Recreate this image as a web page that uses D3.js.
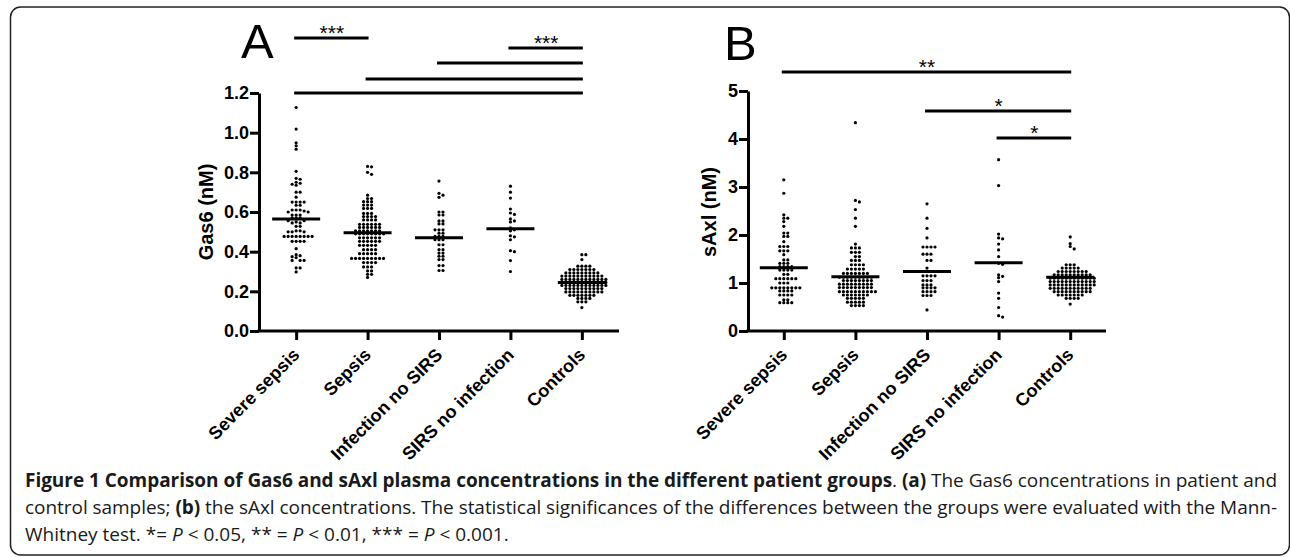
<!DOCTYPE html>
<html>
<head>
<meta charset="utf-8">
<script src="https://cdn.jsdelivr.net/npm/d3@7"></script>
<style>
  html, body { margin: 0; padding: 0; background: #fff; }
  svg { display: block; }
</style>
</head>
<body>
<svg id="fig" width="1290" height="557"></svg>
<script>
// Groups (x categories)
const groups = ["Severe sepsis", "Sepsis", "Infection no SIRS", "SIRS no infection", "Controls"];

// Panel A: Gas6 (nM)
const gas6SevereSepsis = [1.127, 1.018, 0.949, 0.934, 0.917, 0.805, 0.77, 0.765, 0.75, 0.745, 0.74, 0.735,
  0.70, 0.70, 0.675, 0.65, 0.65, 0.65, 0.65, 0.634, 0.634, 0.61, 0.61, 0.61, 0.605, 0.60, 0.60,
  0.585, 0.585, 0.585, 0.57, 0.57, 0.57, 0.556, 0.556, 0.55, 0.545, 0.545, 0.528, 0.528,
  0.505, 0.505, 0.50, 0.50, 0.50, 0.477, 0.477, 0.477, 0.477, 0.477, 0.477, 0.477, 0.477,
  0.452, 0.452, 0.452, 0.452, 0.415, 0.385, 0.38, 0.375, 0.37, 0.356, 0.356, 0.356, 0.318, 0.318, 0.298];
const gas6Sepsis = [0.83, 0.828, 0.80, 0.79, 0.685, 0.668, 0.668, 0.652, 0.652, 0.652,
  0.635, 0.635, 0.635, 0.618, 0.618, 0.618, 0.593, 0.593, 0.593, 0.577, 0.577, 0.577, 0.577,
  0.56, 0.56, 0.56, 0.56, 0.538, 0.538, 0.538, 0.538, 0.538, 0.538, 0.522, 0.522, 0.522, 0.522, 0.522, 0.522,
  0.505, 0.505, 0.505, 0.505, 0.505, 0.505, 0.505, 0.49, 0.49, 0.49, 0.49, 0.49, 0.49, 0.49, 0.49,
  0.47, 0.47, 0.47, 0.47, 0.47, 0.47, 0.452, 0.452, 0.452, 0.452, 0.452, 0.452,
  0.432, 0.432, 0.432, 0.432, 0.432, 0.41, 0.41, 0.41, 0.41, 0.39, 0.39, 0.39, 0.39, 0.39,
  0.366, 0.366, 0.366, 0.366, 0.366, 0.366, 0.366, 0.366, 0.366, 0.345, 0.345, 0.345, 0.345,
  0.323, 0.323, 0.323, 0.303, 0.303, 0.286, 0.286, 0.27];
const gas6Infection = [0.756, 0.694, 0.685, 0.674, 0.60, 0.60, 0.585, 0.585, 0.555, 0.555, 0.54, 0.54,
  0.51, 0.51, 0.51, 0.493, 0.493, 0.477, 0.477, 0.477, 0.46, 0.46, 0.46, 0.435, 0.435,
  0.41, 0.41, 0.393, 0.393, 0.377, 0.377, 0.36, 0.36, 0.33, 0.33, 0.305, 0.305];
const gas6Sirs = [0.73, 0.70, 0.67, 0.615, 0.595, 0.588, 0.565, 0.555, 0.55, 0.52, 0.51, 0.505,
  0.48, 0.475, 0.46, 0.405, 0.40, 0.355, 0.30];
const gas6Controls = [0.385, 0.385, 0.36, 0.327, 0.327, 0.327, 0.327,
  0.31, 0.31, 0.31, 0.31, 0.31, 0.31, 0.31, 0.293, 0.293, 0.293, 0.293, 0.293, 0.293, 0.293, 0.293, 0.293,
  0.277, 0.277, 0.277, 0.277, 0.277, 0.277, 0.277, 0.277, 0.277, 0.277, 0.277,
  0.26, 0.26, 0.26, 0.26, 0.26, 0.26, 0.26, 0.26, 0.26, 0.26, 0.26, 0.26,
  0.245, 0.245, 0.245, 0.245, 0.245, 0.245, 0.245, 0.245, 0.245, 0.245, 0.245, 0.245,
  0.23, 0.23, 0.23, 0.23, 0.23, 0.23, 0.23, 0.23, 0.23, 0.23, 0.23, 0.23,
  0.214, 0.214, 0.214, 0.214, 0.214, 0.214, 0.214, 0.214, 0.214, 0.214,
  0.197, 0.197, 0.197, 0.197, 0.197, 0.197, 0.197, 0.197, 0.197, 0.197,
  0.18, 0.18, 0.18, 0.18, 0.18, 0.18, 0.18, 0.164, 0.164, 0.164, 0.164, 0.147, 0.147, 0.147, 0.118];
const gas6Medians = [0.565, 0.495, 0.47, 0.515, 0.245];
const gas6Ticks = [0, 0.2, 0.4, 0.6, 0.8, 1.0, 1.2];

// Panel A significance bars (group index from / to, height in nM, label)
const gas6SigFrom = [0, 3, 2, 1, 0];
const gas6SigTo = [1, 4, 4, 4, 4];
const gas6SigLevel = [1.477, 1.427, 1.351, 1.271, 1.2];
const gas6SigLabel = ["***", "***", "", "", ""];

// Panel B: sAxl (nM)
const saxlSevereSepsis = [3.15, 2.87, 2.42, 2.35, 2.35, 2.28, 2.18, 2.04, 2.04, 1.97, 1.97, 1.86,
  1.76, 1.76, 1.76, 1.67, 1.67, 1.67, 1.59, 1.48, 1.48, 1.41, 1.41, 1.41, 1.34, 1.34, 1.34, 1.34,
  1.27, 1.27, 1.27, 1.27, 1.18, 1.18, 1.09, 1.09, 1.09, 1.09, 1.09, 1.09, 1.00, 1.00, 1.00,
  0.90, 0.90, 0.90, 0.90, 0.90, 0.90, 0.90, 0.90, 0.835, 0.835, 0.835, 0.835,
  0.75, 0.75, 0.75, 0.75, 0.65, 0.65, 0.59, 0.59, 0.59, 0.59];
const saxlSepsis = [4.34, 2.72, 2.69, 2.53, 2.35, 2.18, 1.81, 1.73, 1.73, 1.73, 1.64, 1.64, 1.64,
  1.55, 1.55, 1.47, 1.47, 1.47, 1.38, 1.38, 1.38, 1.38, 1.29, 1.29, 1.29, 1.29, 1.29,
  1.20, 1.20, 1.20, 1.20, 1.20, 1.20, 1.20, 1.12, 1.12, 1.12, 1.12, 1.12, 1.12, 1.12, 1.12, 1.12,
  1.05, 1.05, 1.05, 1.05, 1.05, 1.05, 1.05, 1.05, 0.975, 0.975, 0.975, 0.975, 0.975, 0.975, 0.975, 0.975, 0.975,
  0.905, 0.905, 0.905, 0.905, 0.905, 0.905, 0.905, 0.905, 0.905,
  0.82, 0.82, 0.82, 0.82, 0.82, 0.82, 0.82, 0.82, 0.82, 0.82, 0.75, 0.75, 0.75, 0.75, 0.75, 0.75, 0.75,
  0.68, 0.68, 0.68, 0.68, 0.68, 0.60, 0.60, 0.60, 0.60, 0.60, 0.53, 0.53, 0.53, 0.53];
const saxlInfection = [2.65, 2.35, 2.14, 1.94, 1.75, 1.75, 1.75, 1.75, 1.60, 1.60, 1.60, 1.47, 1.47,
  1.31, 1.24, 1.24, 1.15, 1.15, 1.15, 1.15, 1.05, 1.05, 1.05, 0.96, 0.96, 0.96, 0.90, 0.90, 0.90, 0.90,
  0.82, 0.82, 0.82, 0.82, 0.74, 0.74, 0.74, 0.44];
const saxlSirs = [3.57, 3.03, 2.02, 1.94, 1.92, 1.81, 1.69, 1.55, 1.41, 1.39, 1.17, 1.14, 1.11, 1.03,
  0.79, 0.68, 0.49, 0.32, 0.29];
const saxlControls = [1.96, 1.82, 1.76, 1.71, 1.38, 1.38, 1.38, 1.31, 1.31, 1.31, 1.31, 1.31,
  1.24, 1.24, 1.24, 1.24, 1.24, 1.24, 1.24, 1.24, 1.17, 1.17, 1.17, 1.17, 1.17, 1.17, 1.17, 1.17, 1.17, 1.17,
  1.10, 1.10, 1.10, 1.10, 1.10, 1.10, 1.10, 1.10, 1.10, 1.10, 1.10, 1.10,
  1.03, 1.03, 1.03, 1.03, 1.03, 1.03, 1.03, 1.03, 1.03, 1.03, 1.03, 1.03,
  0.96, 0.96, 0.96, 0.96, 0.96, 0.96, 0.96, 0.96, 0.96, 0.96, 0.96, 0.96,
  0.89, 0.89, 0.89, 0.89, 0.89, 0.89, 0.89, 0.89, 0.89, 0.89, 0.89,
  0.82, 0.82, 0.82, 0.82, 0.82, 0.82, 0.82, 0.82, 0.82, 0.82, 0.75, 0.75, 0.75, 0.75, 0.75, 0.75, 0.75,
  0.68, 0.68, 0.68, 0.68, 0.56];
const saxlMedians = [1.32, 1.13, 1.24, 1.42, 1.12];
const saxlTicks = [0, 1, 2, 3, 4, 5];

const saxlSigFrom = [0, 2, 3];
const saxlSigTo = [4, 4, 4];
const saxlSigLevel = [5.396, 4.583, 4.021];
const saxlSigLabel = ["**", "*", "*"];

const svg = d3.select("#fig");
const FONT = "'Liberation Sans', Arial, Helvetica, sans-serif";

// Frame round the whole figure
svg.append("rect")
  .attr("x", 10.5).attr("y", 7)
  .attr("width", 1279).attr("height", 548)
  .attr("rx", 10)
  .attr("fill", "none")
  .attr("stroke", "#222")
  .attr("stroke-width", 1.5);

// Simple beeswarm: each point takes the x offset nearest the centre that doesn't collide
function swarm(values, y, dx, dy) {
  const pts = values.map(v => ({ v: v, y: y(v) })).sort((a, b) => a.y - b.y);
  const placed = [];
  pts.forEach(p => {
    const near = placed.filter(q => Math.abs(q.y - p.y) < dy);
    const right = near.filter(q => q.x > 0).length;
    const left = near.filter(q => q.x < 0).length;
    const sign = right > left ? -1 : 1;
    const cands = [0];
    near.forEach(q => { cands.push(q.x - dx, q.x + dx); });
    cands.sort((a, b) => (Math.abs(a) - Math.abs(b)) || (sign * (b - a)));
    p.x = cands.find(c => near.every(q => Math.abs(c - q.x) >= dx - 0.01));
    placed.push(p);
  });
  return placed;
}

function drawPanel(o) {
  const g = svg.append("g");

  const x = d3.scalePoint().domain(groups).range([o.left, o.right]).padding(o.pad);
  const y = d3.scaleLinear().domain([0, o.yMax]).range([331, o.yTop]);

  // y axis
  g.append("g")
    .attr("transform", `translate(${o.left},0)`)
    .call(d3.axisLeft(y).tickValues(o.ticks).tickFormat(o.fmt).tickSize(9).tickPadding(1).tickSizeOuter(0))
    .call(s => s.selectAll("path, line").attr("stroke", "#000").attr("stroke-width", 3))
    .call(s => s.selectAll("text")
      .attr("font-family", FONT).attr("font-weight", "bold")
      .attr("font-size", 18).attr("fill", "#000"));

  // x axis
  const xa = g.append("g")
    .attr("transform", `translate(0,331)`)
    .call(d3.axisBottom(x).tickSize(9).tickSizeOuter(0))
    .call(s => s.selectAll("path, line").attr("stroke", "#000").attr("stroke-width", 3));
  xa.select(".domain").attr("d", `M${o.left - 1.5},0H${o.right}`);
  xa.selectAll("text")
    .attr("x", 0).attr("y", 0).attr("dy", 0)
    .attr("transform", "translate(4,25) rotate(-45)")
    .attr("text-anchor", "end")
    .attr("font-family", FONT).attr("font-weight", "bold")
    .attr("font-size", 18).attr("fill", "#000");

  // y axis title
  g.append("text")
    .attr("transform", `translate(${o.titleX},212) rotate(-90)`)
    .attr("text-anchor", "middle")
    .attr("font-family", FONT).attr("font-weight", "bold")
    .attr("font-size", 20)
    .text(o.title);

  // panel letter
  g.append("text")
    .attr("x", o.letterX).attr("y", o.letterY)
    .attr("font-family", FONT).attr("font-size", 49)
    .text(o.letter);

  // dots
  o.series.forEach((vals, i) => {
    const cx = x(groups[i]);
    g.append("g").selectAll("circle")
      .data(swarm(vals, y, 4.0, 2.8))
      .join("circle")
      .attr("cx", d => cx + d.x)
      .attr("cy", d => d.y)
      .attr("r", 1.6)
      .attr("fill", "#000");
  });

  // medians
  g.append("g").selectAll("line")
    .data(o.medians)
    .join("line")
    .attr("x1", (d, i) => x(groups[i]) - 24)
    .attr("x2", (d, i) => x(groups[i]) + 24)
    .attr("y1", d => y(d)).attr("y2", d => y(d))
    .attr("stroke", "#000").attr("stroke-width", 3);

  // significance bars
  const bars = o.sigFrom.map((f, i) => ({ from: f, to: o.sigTo[i], level: o.sigLevel[i], label: o.sigLabel[i] }));
  g.append("g").selectAll("line")
    .data(bars)
    .join("line")
    .attr("x1", d => x(groups[d.from]) - 2)
    .attr("x2", d => x(groups[d.to]) + 1)
    .attr("y1", d => y(d.level)).attr("y2", d => y(d.level))
    .attr("stroke", "#000").attr("stroke-width", 3);
  g.append("g").selectAll("text")
    .data(bars.filter(d => d.label))
    .join("text")
    .attr("x", d => (x(groups[d.from]) + x(groups[d.to])) / 2)
    .attr("y", d => y(d.level) + 2)
    .attr("text-anchor", "middle")
    .attr("font-family", FONT).attr("font-size", 21)
    .text(d => d.label);
}

drawPanel({
  left: 259, right: 619, pad: 0.52, yMax: 1.2, yTop: 93,
  ticks: gas6Ticks, fmt: d3.format(".1f"),
  series: [gas6SevereSepsis, gas6Sepsis, gas6Infection, gas6Sirs, gas6Controls],
  medians: gas6Medians,
  sigFrom: gas6SigFrom, sigTo: gas6SigTo, sigLevel: gas6SigLevel, sigLabel: gas6SigLabel,
  title: "Gas6 (nM)", titleX: 213, letter: "A", letterX: 241, letterY: 58
});

drawPanel({
  left: 748, right: 1106, pad: 0.5, yMax: 5, yTop: 91,
  ticks: saxlTicks, fmt: d3.format("d"),
  series: [saxlSevereSepsis, saxlSepsis, saxlInfection, saxlSirs, saxlControls],
  medians: saxlMedians,
  sigFrom: saxlSigFrom, sigTo: saxlSigTo, sigLevel: saxlSigLevel, sigLabel: saxlSigLabel,
  title: "sAxl (nM)", titleX: 716, letter: "B", letterX: 724, letterY: 60
});

// Caption
const capLines = [
  [["Figure 1 Comparison of Gas6 and sAxl plasma concentrations in the different patient groups", "b"], [". ", ""], ["(a)", "b"], [" The Gas6 concentrations in patient and", ""]],
  [["control samples; ", ""], ["(b)", "b"], [" the sAxl concentrations. The statistical significances of the differences between the groups were evaluated with the Mann-", ""]],
  [["Whitney test. *= ", ""], ["P", "i"], [" < 0.05, ** = ", ""], ["P", "i"], [" < 0.01, *** = ", ""], ["P", "i"], [" < 0.001.", ""]]
];
const capY = [487, 514, 541];
capLines.forEach((parts, li) => {
  const t = svg.append("text")
    .attr("x", 25).attr("y", capY[li])
    .attr("font-family", "'Open Sans', 'Noto Sans', sans-serif")
    .attr("font-size", 19)
    .attr("fill", "#1a1a1a");
  if (li < 2) t.attr("textLength", 1252).attr("lengthAdjust", "spacing");
  parts.forEach(p => {
    t.append("tspan")
      .attr("font-weight", p[1] === "b" ? "bold" : "normal")
      .attr("font-style", p[1] === "i" ? "italic" : "normal")
      .text(p[0]);
  });
});
</script>
</body>
</html>
